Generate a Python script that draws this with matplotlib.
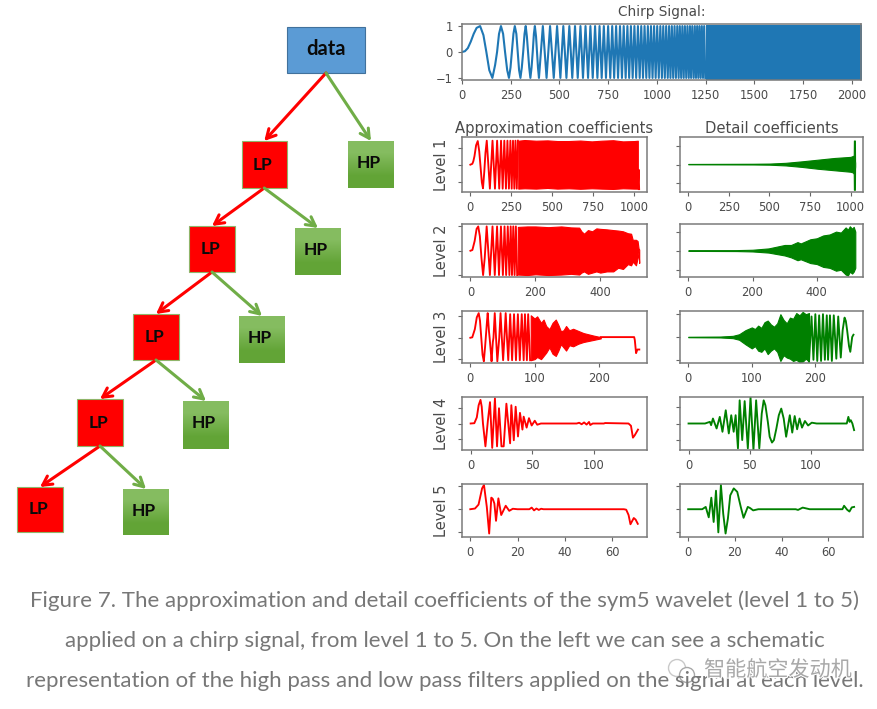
import numpy as np
import matplotlib
matplotlib.use("Agg")
import matplotlib.pyplot as plt
import matplotlib.patheffects as pe
from matplotlib.patches import Rectangle, Circle

W, H = 877, 709

# ---- chirp (turning points, then solid band)
chirp_start_x = [0, 15, 30, 45, 60, 75, 93, 110, 125, 140, 156, 170, 180, 190, 200, 211, 221, 232, 241, 249, 256, 264,
                 271, 279, 286, 293, 300, 307, 314, 321, 327, 333, 339, 345, 351, 357, 363, 369, 374, 380, 385, 390, 395]
chirp_start_y = [0, 0.03, 0.15, 0.4, 0.7, 0.93, 1, 0.65, 0, -0.7, -1, -0.5, 0, 0.7, 1, 0.7, 0, -0.7, -1, -0.6, 0, 0.7,
                 1, 0.7, 0, -0.7, -1, -0.6, 0, 0.7, 1, 0.6, 0, -0.6, -1, -0.6, 0, 0.7, 1, 0.6, 0, -0.6, -1]
chirp_peaks = [415, 452, 488, 520, 551, 580, 608, 634, 659, 683, 706, 728, 750, 771, 791, 811, 830, 849, 867, 885,
               903, 920, 937, 954, 970, 986, 1002, 1018, 1033, 1048, 1063, 1077, 1091, 1105, 1118, 1131, 1144,
               1157, 1170, 1182, 1195, 1207, 1219, 1231, 1243]
chirp_troughs = [434, 471, 505, 536, 566, 594, 621, 647, 671, 695, 717, 739, 761, 781, 801, 821, 840, 858, 876, 894,
                 912, 929, 946, 962, 978, 994, 1010, 1026, 1041, 1056, 1070, 1084, 1098, 1112, 1125, 1138, 1151,
                 1164, 1176, 1189, 1201, 1213, 1225, 1237, 1249]
chirp_band_x = [1250, 2048]
chirp_band_top = [1.03, 1.03]
chirp_band_bottom = [-1.03, -1.03]

# ---- level 1
a1_start_x = [0, 12, 18, 25, 35, 45, 54, 61, 70, 77, 85, 92]
a1_start_y = [0, 0.05, 0.2, 0.5, 1.15, 1.4, 0.8, 0, -1.05, -1.4, -0.4, 0.7]
a1_peaks = [100, 135, 163, 187, 207, 226, 244, 260, 275, 290]
a1_troughs = [119, 150, 176, 197, 217, 235, 252, 268, 283]
a1_band_x = [292, 330, 400, 470, 530, 600, 670, 740, 800, 870, 930, 1000, 1021]
a1_band_top = [1.42, 1.46, 1.42, 1.44, 1.4, 1.4, 1.43, 1.38, 1.42, 1.45, 1.38, 1.4, 1.42]
a1_band_bottom = [-1.42, -1.4, -1.42, -1.38, -1.42, -1.4, -1.43, -1.4, -1.42, -1.44, -1.4, -1.42, -1.42]
a1_tail_x = [1021, 1026, 1029]
a1_tail_y = [-1.4, -0.3, -1.45]

d1_x = [0, 400, 500, 600, 700, 800, 900, 1000, 1015, 1020, 1021, 1027, 1028, 1029]
d1_top = [0.04, 0.05, 0.06, 0.1, 0.18, 0.27, 0.36, 0.42, 0.47, 0.5, 1.3, 1.3, 0.2, 0.1]
d1_bottom = [0.02, 0.01, 0, -0.04, -0.12, -0.22, -0.3, -0.38, -0.42, -0.5, -1.35, -1.35, -0.2, -0.1]

# ---- level 2
a2_start_x = [0, 6, 13, 19, 24, 29, 34, 39, 44]
a2_start_y = [0, 0.03, 0.4, 0.9, 1, 0.6, -0.3, -1, -0.3]
a2_peaks = [50, 68, 82, 94, 105, 115, 124, 132, 140]
a2_troughs = [60, 75, 88, 100, 110, 120, 128, 136, 144]
a2_band_x = [146, 175, 200, 240, 280, 310, 335, 342, 350, 362, 375, 388, 400, 420, 440, 455, 470, 485, 495, 500, 510, 515, 518, 520]
a2_band_top = [0.98, 1, 1, 0.97, 1, 0.96, 0.95, 0.8, 0.7, 0.85, 0.8, 0.92, 0.9, 0.88, 0.85, 0.83, 0.8, 0.72, 0.7, 0.45, 0.45, 0.4, 0.1, 0.05]
a2_band_bottom = [-0.98, -1, -0.97, -1, -0.98, -0.95, -0.98, -0.9, -0.85, -0.95, -0.9, -0.85, -0.9, -0.85, -0.85, -0.7, -0.75, -0.55, -0.6, -0.45, -0.6, -0.3, -0.05, -0.5]

d2_x = [0, 150, 200, 250, 300, 320, 340, 350, 380, 400, 420, 440, 460, 475, 490, 497, 503, 510, 515, 520]
d2_top = [0.02, 0.03, 0.05, 0.12, 0.3, 0.3, 0.45, 0.38, 0.6, 0.65, 0.8, 0.85, 1.0, 0.95, 1.22, 1.1, 1.28, 1.15, 1.25, 1.0]
d2_bottom = [-0.01, -0.02, -0.04, -0.1, -0.25, -0.35, -0.5, -0.45, -0.65, -0.7, -0.85, -0.9, -1.05, -1.0, -1.25, -1.3, -1.1, -1.2, -1.1, -0.9]

# ---- level 3
a3_x = [0, 3, 7, 10, 13, 15, 17, 19, 21, 23, 24, 26, 27, 29, 30, 32, 33, 35, 36, 38, 40, 42, 45, 47, 49, 51, 53, 55, 57, 59]
a3_y = [0, 0.02, 0.4, 0.95, 1.15, 0.8, 0, -0.8, -1.1, -0.4, 0, 0.8, 1.15, 0.3, 0, -0.7, -1.1, -0.2, 0, 1.15, 0, -1.1, 0, 1.15, 0, -1.05, 0, 1.15, 0, -1.05]
a3_peaks = [62, 68, 74, 80, 85, 90]
a3_troughs = [65, 71, 77, 83, 88, 93]
a3_band_x = [94, 100, 104, 110, 114, 118, 123, 128, 133, 137, 141, 145, 149, 154, 160, 168, 176, 192, 203]
a3_band_top = [1.05, 0.9, 1.0, 0.7, 0.85, 0.55, 0.4, 0.7, 0.85, 0.6, 0.3, 0.35, 0.55, 0.35, 0.42, 0.32, 0.22, 0.1, 0.03]
a3_band_bottom = [-1.05, -1.0, -0.9, -1.0, -0.85, -0.7, -0.45, -0.75, -0.85, -0.6, -0.3, -0.45, -0.6, -0.35, -0.4, -0.28, -0.2, -0.1, -0.03]
a3_tail_x = [203, 255, 256, 258, 260, 263]
a3_tail_y = [0.03, 0.03, -0.1, -0.72, -0.55, -0.55]

d3_band_x = [0, 50, 70, 80, 90, 100, 105, 110, 115, 120, 125, 130, 135, 140, 145, 150, 155, 160, 165, 170, 175, 180, 185, 190]
d3_band_top = [0.01, 0.02, 0.05, 0.12, 0.3, 0.42, 0.35, 0.5, 0.4, 0.65, 0.72, 0.55, 0.45, 0.6, 1.0, 0.75, 0.6, 0.85, 0.8, 1.05, 0.95, 1.1, 1.0, 1.05]
d3_band_bottom = [-0.01, -0.02, -0.05, -0.12, -0.32, -0.5, -0.4, -0.6, -0.65, -0.5, -0.75, -0.6, -0.5, -0.65, -1.05, -0.8, -0.9, -0.95, -1.05, -1.0, -1.1, -1.08, -0.95, -1.08]
d3_tail_x = [190, 194, 197, 200, 203, 206, 209, 212, 215, 218, 220, 223, 226, 229, 233, 236, 240, 243, 246, 248, 250, 253, 255, 258, 260]
d3_tail_y = [-1.08, 0.9, -1.0, 1.0, -1.05, 0.95, -1.05, 1.0, -1.0, 0.95, -1.0, 0.95, -1.05, 0.95, -0.95, 0.9, -0.9, 0.3, 0.85, 0.7, 0.3, -0.4, -0.65, 0.0, 0.1]

# ---- level 4
a4_x = [0, 3, 5, 6.5, 8, 9, 10, 12, 14, 15.7, 17.5, 19.7, 21.4, 23, 25, 26.8, 29, 32, 33, 35, 36.5, 38.4, 40, 42, 43, 45.4,
        47.3, 49.5, 52, 54, 57, 86, 88, 90, 92, 94, 96, 97, 99, 108, 109, 128, 130, 131.6, 133, 135.7]
a4_y = [0, 0.02, 0.4, 1.2, 1.55, 1.1, 0, -1.5, 0.2, 1.4, -1.6, 1.65, -1.5, 1.0, -1.5, -1.5, 1.3, -1.3, 1.2, -1.1, 1.1, -0.85,
        0.7, -0.4, 0.45, -0.27, 0.35, -0.13, 0.18, -0.08, 0, 0, 0.05, -0.05, 0.07, -0.07, 0.1, -0.1, 0, 0, 0.03, 0,
        -0.15, -0.93, -0.78, -0.4]

d4_x = [0, 13.5, 17.5, 18.5, 20, 23, 25.6, 27.8, 30.5, 33, 35, 37, 38.6, 40.5, 41.9, 44, 46, 48.6, 50.8, 53.2, 55.4,
        58, 60, 61.6, 63, 65, 66.5, 68.4, 70, 72, 74, 76, 78, 80, 83, 85, 87, 89, 91, 93, 95.4, 98, 101, 105, 128, 129.7, 131, 132, 133,
        134.3, 135.7]
d4_y = [0, 0, 0.1, -0.1, 0.3, -0.3, 0.4, -0.5, 0.8, -0.6, 0.5, -0.5, 0.5, -1.5, 1.4, -1.0, 1.35, -1.5, 1.6, -1.6,
        1.4, -1.5, 0.6, 1.4, 1.1, 0.1, -0.8, -1.15, -1.0, -0.3, 0.5, 0.9, 0.3, -0.8, 0.5, -0.55, 0.45, -0.35, 0.3, -0.25, 0.15, -0.12, 0.05,
        0, 0, 0, 0.4, 0.1, 0.2, 0, -0.4]

# ---- level 5
a5_x = [0, 2, 3.5, 5, 5.8, 7, 8, 8.9, 9.5, 10.2, 10.9, 11.9, 13.1, 15, 16.5, 18, 20, 25, 26, 27, 28, 29, 30, 31, 65,
        66, 67, 67.8, 69.2, 70, 70.9]
a5_y = [0, 0.03, 0.2, 0.9, 1.05, 0.1, -1.05, 0.5, 0.45, 0.25, -0.5, 0.47, -0.25, 0.15, -0.07, 0.02, 0, 0, 0.07,
        -0.05, 0.03, -0.03, 0.02, 0, 0, -0.02, -0.25, -0.65, -0.38, -0.45, -0.63]

d5_x = [0, 6, 7.5, 8.8, 9.9, 10.9, 11.9, 12.9, 14, 15, 16, 17, 18, 19.5, 21, 22.5, 23.7, 25.5, 26.5, 27.8, 30, 46, 47, 49, 52,
        58, 66, 66.7, 68, 69, 70, 71]
d5_y = [0, 0, 0.1, -0.35, 0.5, -0.55, 0.8, -1.0, 1.05, -0.2, -1.05, -0.4, 0.6, 0.9, 0.75, 0.1, -0.37, 0.1, 0.05, -0.05, 0, 0, -0.03,
        0.07, 0, 0, 0, 0.15, -0.02, -0.1, 0.08, 0.1]

level_names = ["Level 1", "Level 2", "Level 3", "Level 4", "Level 5"]
chirp_ticks = [0, 250, 500, 750, 1000, 1250, 1500, 1750, 2000]
row_ticks = [[0, 250, 500, 750, 1000], [0, 200, 400], [0, 100, 200], [0, 50, 100], [0, 20, 40, 60]]
row_xlim = [(-51, 1077), (-26, 544), (-13, 275), (-7, 143), (-3.5, 74.8)]
row_top = [137, 224, 311, 397, 484]
row_bottom = [192, 277, 363, 450, 537]
ylim_left = [(-1.62, 1.64), (-1.08, 1.1), (-1.18, 1.25), (-1.74, 1.74), (-1.2, 1.09)]
ylim_right = [(-1.47, 1.49), (-1.38, 1.4), (-1.14, 1.14), (-1.6, 1.6), (-1.2, 1.09)]

# ---- filter tree: left, right, top, bottom of each box in pixels
box_names = ["data", "LP", "HP", "LP", "HP", "LP", "HP", "LP", "HP", "LP", "HP"]
box_left = [287, 241.5, 348, 189, 295, 133, 239, 77, 183, 17, 123]
box_right = [365, 287, 394, 235, 341, 179, 285, 123, 229, 63, 169]
box_top = [27, 141, 141, 226, 228, 314, 316, 399, 401, 487, 489]
box_bottom = [73, 188, 188, 272, 275, 360, 363, 446, 449, 532, 535]
# parent box -> (low pass child, high pass child)
box_children = {0: (1, 2), 1: (3, 4), 3: (5, 6), 5: (7, 8), 7: (9, 10)}

caption = ["Figure 7. The approximation and detail coefficients of the sym5 wavelet (level 1 to 5)",
           "applied on a chirp signal, from level 1 to 5. On the left we can see a schematic",
           "representation of the high pass and low pass filters applied on the signal at each level."]
caption_y = [601, 641, 681]

TXT = "#4a4a4a"
BLUE, RED, GREEN = "#1f77b4", "#ff0000", "#008000"
ARROW_GREEN = "#70ad47"
LW = 1.35


def zigzag(peaks, troughs, top, bottom):
    pts = sorted([(x, top) for x in peaks] + [(x, bottom) for x in troughs])
    return [p[0] for p in pts], [p[1] for p in pts]


def make_axes(fig, left, right, top, bottom):
    ax = fig.add_axes([left / W, 1 - bottom / H, (right - left) / W, (bottom - top) / H])
    for s in ax.spines.values():
        s.set_color("#7a7a7a")
        s.set_linewidth(1.1)
    ax.tick_params(labelsize=8.3, colors=TXT, color="#666666", length=3, width=0.8)
    return ax


def style_row(ax, i, ylim):
    ax.set_xlim(row_xlim[i])
    ax.set_ylim(ylim)
    ax.set_xticks(row_ticks[i])
    ax.set_yticks([-1, 0, 1])
    ax.set_yticklabels([])


def band(ax, x, top, bottom, color):
    ax.fill_between(x, bottom, top, color=color, lw=0.8)


def line(ax, x, y, color, lw=LW):
    ax.plot(x, y, color=color, lw=lw, solid_joinstyle="round")


fig = plt.figure(figsize=(W / 100, H / 100), dpi=100, facecolor="white")

# chirp
ax = make_axes(fig, 462, 861, 24, 80)
px, py = zigzag(chirp_peaks, chirp_troughs, 1, -1)
line(ax, chirp_start_x + px, chirp_start_y + py, BLUE, 1.5)
band(ax, chirp_band_x, chirp_band_top, chirp_band_bottom, BLUE)
ax.set_xlim(0, 2048)
ax.set_ylim(-1.08, 1.08)
ax.set_xticks(chirp_ticks)
ax.set_yticks([-1, 0, 1])
ax.set_title("Chirp Signal:", fontsize=9.8, color=TXT, pad=6)

axes_left = [make_axes(fig, 462, 647, t, b) for t, b in zip(row_top, row_bottom)]
axes_right = [make_axes(fig, 680, 863, t, b) for t, b in zip(row_top, row_bottom)]

# left column
px, py = zigzag(a1_peaks, a1_troughs, 1.42, -1.42)
line(axes_left[0], a1_start_x + px, a1_start_y + py, RED)
band(axes_left[0], a1_band_x, a1_band_top, a1_band_bottom, RED)
line(axes_left[0], a1_tail_x, a1_tail_y, RED)

px, py = zigzag(a2_peaks, a2_troughs, 1, -1)
line(axes_left[1], a2_start_x + px, a2_start_y + py, RED)
band(axes_left[1], a2_band_x, a2_band_top, a2_band_bottom, RED)

px, py = zigzag(a3_peaks, a3_troughs, 1.1, -1.05)
line(axes_left[2], a3_x + px, a3_y + py, RED)
band(axes_left[2], a3_band_x, a3_band_top, a3_band_bottom, RED)
line(axes_left[2], a3_tail_x, a3_tail_y, RED)

line(axes_left[3], a4_x, a4_y, RED)
line(axes_left[4], a5_x, a5_y, RED)

# right column
band(axes_right[0], d1_x, d1_top, d1_bottom, GREEN)
band(axes_right[1], d2_x, d2_top, d2_bottom, GREEN)
band(axes_right[2], d3_band_x, d3_band_top, d3_band_bottom, GREEN)
line(axes_right[2], d3_tail_x, d3_tail_y, GREEN)
line(axes_right[3], d4_x, d4_y, GREEN)
line(axes_right[4], d5_x, d5_y, GREEN)

for i in range(5):
    style_row(axes_left[i], i, ylim_left[i])
    style_row(axes_right[i], i, ylim_right[i])
    axes_left[i].set_ylabel(level_names[i], fontsize=10.5, color=TXT, labelpad=3)
axes_left[0].set_title("Approximation coefficients", fontsize=10.6, color=TXT, pad=3)
axes_right[0].set_title("Detail coefficients", fontsize=10.6, color=TXT, pad=3)

# overlay in pixel coordinates for the tree and the caption
over = fig.add_axes([0, 0, 1, 1], zorder=-1)
over.axis("off")
over.set_xlim(0, W)
over.set_ylim(H, 0)

for parent, kids in box_children.items():
    start = ((box_left[parent] + box_right[parent]) / 2, box_bottom[parent])
    for kid, col in zip(kids, [RED, ARROW_GREEN]):
        end = ((box_left[kid] + box_right[kid]) / 2, box_top[kid])
        over.annotate("", xy=end, xytext=start,
                      arrowprops=dict(arrowstyle="->,head_length=0.65,head_width=0.35", color=col, lw=2.2,
                                      shrinkA=0, shrinkB=0))

grad = np.array([[0.0], [1.0]])
hp_cmap = matplotlib.colors.LinearSegmentedColormap.from_list("hp", ["#85bc60", "#62a436"])
for name, l, r, t, b in zip(box_names, box_left, box_right, box_top, box_bottom):
    dx, dy = -2, 0
    if name == "data":
        over.add_patch(Rectangle((l, t), r - l, b - t, fc="#5b9bd5", ec="#41719c", lw=0.8))
        fs, dx, dy = 14.5, 0, -1
    elif name == "LP":
        over.add_patch(Rectangle((l, t), r - l, b - t, fc="#ff0000", ec="#8fb56a", lw=0.8))
        fs = 12.5
    else:
        over.imshow(grad, extent=(l, r, b, t), cmap=hp_cmap, aspect="auto", interpolation="bilinear")
        fs, dy = 12.5, -1.5
    over.text((l + r) / 2 + dx, (t + b) / 2 + dy, name, fontsize=fs, fontweight="bold",
              color="#0a0a0a", ha="center", va="center", family="Lato")
over.set_xlim(0, W)
over.set_ylim(H, 0)

for txt, y in zip(caption, caption_y):
    over.text(444.5, y, txt, fontsize=16.0, color="#777777", ha="center", va="center", family="Lato")

# wechat style watermark
wm_color = "#a8a8a8"
over.add_patch(Circle((677, 668), 8.5, fc="none", ec="#c9c9c9", lw=1))
over.add_patch(Circle((687, 675), 7.5, fc="white", ec="#a8a8a8", lw=1))
wm = over.text(704, 670, "智能航空发动机", fontsize=15.2, color=wm_color, ha="left", va="center",
               family=["Noto Sans CJK SC", "DejaVu Sans"])
wm.set_path_effects([pe.withStroke(linewidth=1.5, foreground="white")])

fig.savefig("out.png", dpi=100)
